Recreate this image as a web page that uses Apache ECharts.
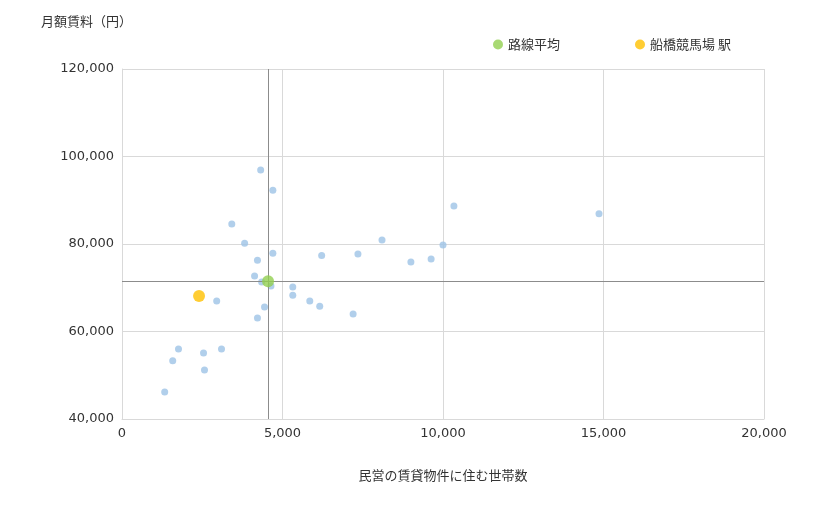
<!DOCTYPE html>
<html><head><meta charset="utf-8">
<script src="https://cdn.jsdelivr.net/npm/echarts@6/dist/echarts.min.js"></script>
<style>html,body{margin:0;padding:0;background:#fff}#c{width:820px;height:510px}</style>
</head><body><div id="c"></div>
<script>
const stations = [[1330,46200],[1580,53300],[1760,56000],[2540,55100],[2570,51200],[3100,56000],[2950,67000],[3420,84600],[3820,80200],[4320,96900],[4700,92300],[4220,76300],[4130,72700],[4350,71300],[4440,65600],[4220,63100],[4640,70400],[4700,77900],[5320,70200],[5320,68300],[5850,67000],[6160,65800],[6220,77400],[7200,64000],[7350,77700],[8100,80900],[9000,75900],[9630,76600],[10000,79800],[10340,88700],[14860,86900]];
const routeAvg = [[4550,71500]];
const target = [[2400,68100]];
const font = '"Noto Sans CJK JP", sans-serif';
const numFont = '"DejaVu Sans", sans-serif';
const chart = echarts.init(document.getElementById('c'));
chart.setOption({
  animation:false,
  textStyle:{fontFamily:font},
  grid:{left:122,right:56,top:69,bottom:91},
  legend:{top:33,left:488,itemGap:75,icon:'circle',itemWidth:10,itemHeight:10,textStyle:{fontSize:13,color:'#333',fontFamily:font},data:['路線平均','船橋競馬場 駅']},
  title:{text:'月額賃料（円）',left:36,top:10,textStyle:{fontSize:13,fontWeight:'normal',color:'#333',fontFamily:font}},
  xAxis:{type:'value',min:0,max:20000,interval:5000,name:'民営の賃貸物件に住む世帯数',nameLocation:'middle',nameGap:50,nameTextStyle:{fontSize:13,color:'#333'},
    axisLine:{lineStyle:{color:'#d9d9d9'}},axisTick:{show:false},axisLabel:{color:'#333',fontSize:13,fontFamily:numFont,formatter:v=>v.toLocaleString('en-US')},splitLine:{lineStyle:{color:'#d9d9d9'}}},
  yAxis:{type:'value',min:40000,max:120000,interval:20000,axisLine:{show:true,lineStyle:{color:'#d9d9d9'}},axisTick:{show:false},
    axisLabel:{color:'#333',fontSize:13,fontFamily:numFont,formatter:v=>v.toLocaleString('en-US')},splitLine:{lineStyle:{color:'#d9d9d9'}}},
  series:[
    {type:'scatter',name:'駅',data:stations,symbolSize:7,itemStyle:{color:'#9dc3e6'},
     markLine:{silent:true,symbol:'none',label:{show:false},lineStyle:{color:'#8c8c8c',type:'solid',width:1},data:[{xAxis:routeAvg[0][0]},{yAxis:routeAvg[0][1]}]}},
    {type:'scatter',name:'路線平均',data:routeAvg,symbolSize:12,itemStyle:{color:'#92d050'},z:5},
    {type:'scatter',name:'船橋競馬場 駅',data:target,symbolSize:12,itemStyle:{color:'#ffc000'},z:5}
  ]
});
</script></body></html>
